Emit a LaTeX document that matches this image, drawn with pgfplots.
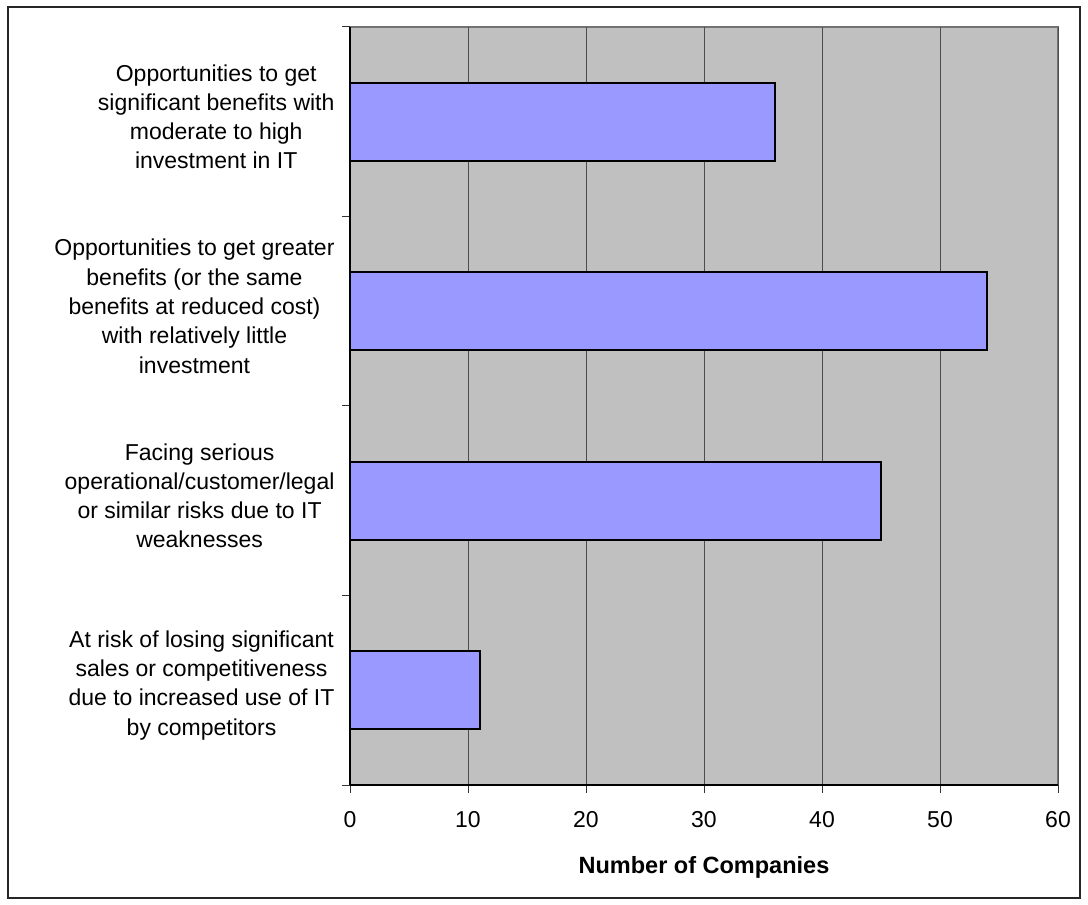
\documentclass[border=0pt]{standalone}
\usepackage{pgfplots}
\pgfplotsset{compat=1.18}
\usepackage{fontspec}
\setmainfont{Liberation Sans}
\definecolor{plotbg}{HTML}{C0C0C0}
\definecolor{barfill}{HTML}{9999FF}
\definecolor{gridc}{HTML}{4D4D4D}
\begin{document}
\begin{tikzpicture}
\useasboundingbox (0,0) rectangle (1088bp,905bp);
\draw[line width=1.2bp, black!85] (8bp,7bp) rectangle (1080bp,898bp);
\begin{axis}[
  at={(350bp,120bp)}, anchor=south west,
  scale only axis, width=708bp, height=758bp,
  xbar, bar width=78bp,
  xmin=0, xmax=60, ymin=-0.5, ymax=3.5,
  xtick={0,10,...,60},
  ytick={-0.5,0.5,1.5,2.5,3.5}, yticklabels={},
  extra y ticks={0,1,2,3},
  extra y tick labels={
    {At risk of losing significant\\sales or competitiveness\\due to increased use of IT\\by competitors},
    {Facing serious\\operational/customer/legal\\or similar risks due to IT\\weaknesses},
    {Opportunities to get greater\\benefits (or the same\\benefits at reduced cost)\\with relatively little\\investment},
    {Opportunities to get\\significant benefits with\\moderate to high\\investment in IT}},
  extra y tick style={major tick length=0pt},
  tick align=outside, major tick length=8bp,
  xtick pos=bottom, ytick pos=left,
  tick style={black!80, line width=1bp},
  xmajorgrids, grid style={gridc, line width=1bp},
  axis line style={draw=none},
  axis background/.style={fill=plotbg, draw=gray!90!black, line width=1.2bp},
  /pgf/number format/assume math mode=true,
  tick label style={font=\fontsize{23bp}{29.3bp}\selectfont},
  xticklabel style={yshift=-15bp},
  yticklabel style={align=center, xshift=-12bp, yshift=5bp},
  xlabel={\textbf{Number of Companies}},
  xlabel style={font=\fontsize{23.5bp}{27bp}\selectfont, at={(axis description cs:0.5,0)}, anchor=center, yshift=-82bp},
  clip=false,
]
\addplot[fill=barfill, draw=black, line width=1.6bp] coordinates {(11,0) (45,1) (54,2) (36,3)};
\draw[black, line width=1.4bp] (axis cs:0,-0.5) -- (axis cs:60,-0.5);
\draw[black, line width=1.4bp] (axis cs:0,-0.5) -- (axis cs:0,3.5);
\end{axis}
\end{tikzpicture}
\end{document}
